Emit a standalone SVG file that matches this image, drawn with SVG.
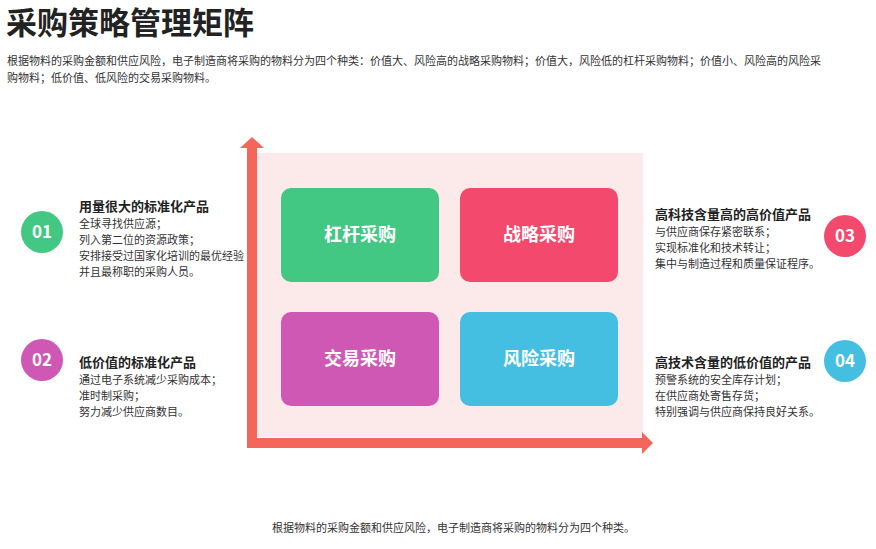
<svg xmlns="http://www.w3.org/2000/svg" width="876" height="549" viewBox="0 0 876 549">
<style>
text{font-family:"Noto Sans CJK SC","Liberation Sans",sans-serif;}
.title{font-size:31px;font-weight:bold;fill:#222;}
.desc{font-size:11px;fill:#333;}
.head{font-size:13px;font-weight:bold;fill:#222;}
.body{font-size:11px;fill:#333;}
.num{font-size:17px;font-weight:bold;fill:#fff;text-anchor:middle;}
.qt{font-size:18px;font-weight:bold;fill:#fff;text-anchor:middle;}
.axis{fill:#f4665c;}
</style>
<rect width="876" height="549" fill="#fff"/>
<text class="title" x="6" y="34">采购策略管理矩阵</text>
<text class="desc" x="7" y="65">根据物料的采购金额和供应风险，电子制造商将采购的物料分为四个种类：价值大、风险高的战略采购物料；价值大，风险低的杠杆采购物料；价值小、风险高的风险采</text>
<text class="desc" x="7" y="82">购物料；低价值、低风险的交易采购物料。</text>

<rect x="257" y="153" width="386" height="284" fill="#fce9e9"/>

<g id="connectors">
<rect class="axis" x="247" y="147" width="10" height="301"/>
<polygon class="axis" points="240,148 252,137 264,148"/>
<rect class="axis" x="247" y="438" width="396" height="10"/>
<polygon class="axis" points="642,432 653,443 642,454"/>
</g>

<g id="q-leverage">
<rect x="281" y="188" width="158" height="94" rx="10" fill="#43c884"/>
<text class="qt" x="360" y="241">杠杆采购</text>
</g>
<g id="q-strategic">
<rect x="460" y="188" width="158" height="94" rx="10" fill="#f2496d"/>
<text class="qt" x="539" y="241">战略采购</text>
</g>
<g id="q-transaction">
<rect x="281" y="312" width="158" height="94" rx="10" fill="#cf58b4"/>
<text class="qt" x="360" y="365">交易采购</text>
</g>
<g id="q-risk">
<rect x="460" y="312" width="158" height="94" rx="10" fill="#45bfe1"/>
<text class="qt" x="539" y="365">风险采购</text>
</g>

<g id="item01">
<circle cx="42" cy="232" r="21" fill="#43c884"/>
<text class="num" x="42" y="238">01</text>
<text class="head" x="79" y="211">用量很大的标准化产品</text>
<text class="body" x="79" y="228">全球寻找供应源；</text>
<text class="body" x="79" y="244">列入第二位的资源政策；</text>
<text class="body" x="79" y="260">安排接受过国家化培训的最优经验</text>
<text class="body" x="79" y="276">并且最称职的采购人员。</text>
</g>
<g id="item02">
<circle cx="42" cy="360" r="21" fill="#cf58b4"/>
<text class="num" x="42" y="366">02</text>
<text class="head" x="79" y="367">低价值的标准化产品</text>
<text class="body" x="79" y="384">通过电子系统减少采购成本；</text>
<text class="body" x="79" y="400">准时制采购；</text>
<text class="body" x="79" y="416">努力减少供应商数目。</text>
</g>
<g id="item03">
<circle cx="845" cy="236" r="21" fill="#f2496d"/>
<text class="num" x="845" y="242">03</text>
<text class="head" x="655" y="219">高科技含量高的高价值产品</text>
<text class="body" x="655" y="236">与供应商保存紧密联系；</text>
<text class="body" x="655" y="252">实现标准化和技术转让；</text>
<text class="body" x="655" y="268">集中与制造过程和质量保证程序。</text>
</g>
<g id="item04">
<circle cx="845" cy="361" r="21" fill="#45bfe1"/>
<text class="num" x="845" y="367">04</text>
<text class="head" x="655" y="367">高技术含量的低价值的产品</text>
<text class="body" x="655" y="384">预警系统的安全库存计划；</text>
<text class="body" x="655" y="400">在供应商处寄售存货；</text>
<text class="body" x="655" y="416">特别强调与供应商保持良好关系。</text>
</g>

<text class="desc" x="272" y="532">根据物料的采购金额和供应风险，电子制造商将采购的物料分为四个种类。</text>
</svg>
